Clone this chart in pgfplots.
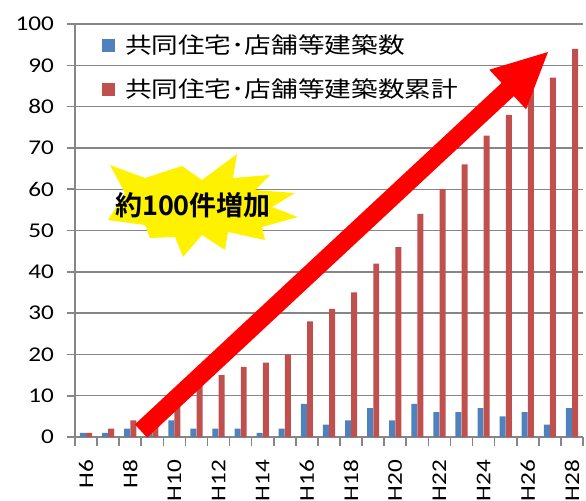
\documentclass[border=0pt]{standalone}
\usepackage{pgfplots}
\pgfplotsset{compat=1.18}
\usepackage{fontspec}
\setmainfont[FakeStretch=1.2]{Carlito}
\newfontfamily\cjk[FakeStretch=1.2]{Noto Sans CJK JP}
\newfontfamily\burst{Noto Sans CJK JP}[BoldFont={* Bold}]
\definecolor{barblue}{HTML}{4F81BD}
\definecolor{barred}{HTML}{C0504D}
\definecolor{axgray}{HTML}{868686}
\begin{document}
\begin{tikzpicture}
\begin{axis}[name=ax,
  scale only axis, width=254pt, height=206.5pt,
  xmin=-0.5, xmax=22.5, ymin=0, ymax=100,
  axis x line*=bottom, axis y line*=left,
  axis line style={draw=axgray, line width=1.2pt},
  ytick={0,10,...,100},
  xtick={0,2,...,22},
  xticklabels={H6,H8,H10,H12,H14,H16,H18,H20,H22,H24,H26,H28},
  minor xtick={-0.5,0.5,...,22.5},
  tick align=outside,
  major tick length=4pt, minor tick length=4.5pt,
  xtick style={draw=none},
  minor x tick style={draw=axgray, line width=0.8pt},
  ytick style={draw=axgray, line width=0.8pt},
  ymajorgrids, grid style={draw=axgray, line width=0.7pt},
  /pgf/number format/assume math mode=true,
  tick label style={font=\fontsize{10.5}{12}\selectfont},
  xticklabel style={rotate=90, anchor=east},
  xticklabel shift=4pt,
  yticklabel shift=3pt,
  legend style={at={(axis description cs:0.052,0.985)}, anchor=north west,
    draw=none, fill=none, font=\cjk\fontsize{11.1}{12.5}\selectfont,
    row sep=7pt, column sep=3pt, inner sep=0pt},
  legend cell align=left,
  legend image code/.code={\fill[#1] (0pt,-3.3pt) rectangle (6.6pt,3.3pt);},
]
\addplot[ybar, bar width=0.27, bar shift=-0.14, fill=barblue, draw=none] coordinates {
(0,1) (1,1) (2,2) (3,3) (4,4) (5,2) (6,2) (7,2) (8,1) (9,2) (10,8) (11,3)
(12,4) (13,7) (14,4) (15,8) (16,6) (17,6) (18,7) (19,5) (20,6) (21,3) (22,7)};
\addlegendentry{共同住宅･店舗等建築数}
\addplot[ybar, bar width=0.27, bar shift=0.14, fill=barred, draw=none] coordinates {
(0,1) (1,2) (2,4) (3,7) (4,11) (5,13) (6,15) (7,17) (8,18) (9,20) (10,28) (11,31)
(12,35) (13,42) (14,46) (15,54) (16,60) (17,66) (18,73) (19,78) (20,84) (21,87) (22,94)};
\addlegendentry{共同住宅･店舗等建築数累計}
\end{axis}
\begin{scope}[shift={(ax.south west)}, xshift=-37.5pt, yshift=218.5pt, x=0.5pt, y=-0.5pt]
\fill[yellow] (110,165) -- (145,178) -- (182,166) -- (202,180) -- (237,154) -- (233,178)
 -- (270,175) -- (255,190) -- (295,193) -- (272,207) -- (298,217) -- (262,227)
 -- (265,240) -- (228,232) -- (225,250) -- (202,235) -- (183,257) -- (175,237)
 -- (150,238) -- (145,225) -- (108,220) -- (125,193) -- cycle;
\node[font=\burst\bfseries\fontsize{13.5}{14}\selectfont, inner sep=0pt] at (193,205) {約100件増加};
\fill[red] (147.1,437.6) -- (513.8,96.1) -- (526.1,109.3) -- (548,52) -- (489.3,69.7)
 -- (501.6,82.9) -- (134.9,424.4) -- cycle;
\pgfresetboundingbox
\path (0,0) rectangle (586,500);
\end{scope}
\end{tikzpicture}
\end{document}
